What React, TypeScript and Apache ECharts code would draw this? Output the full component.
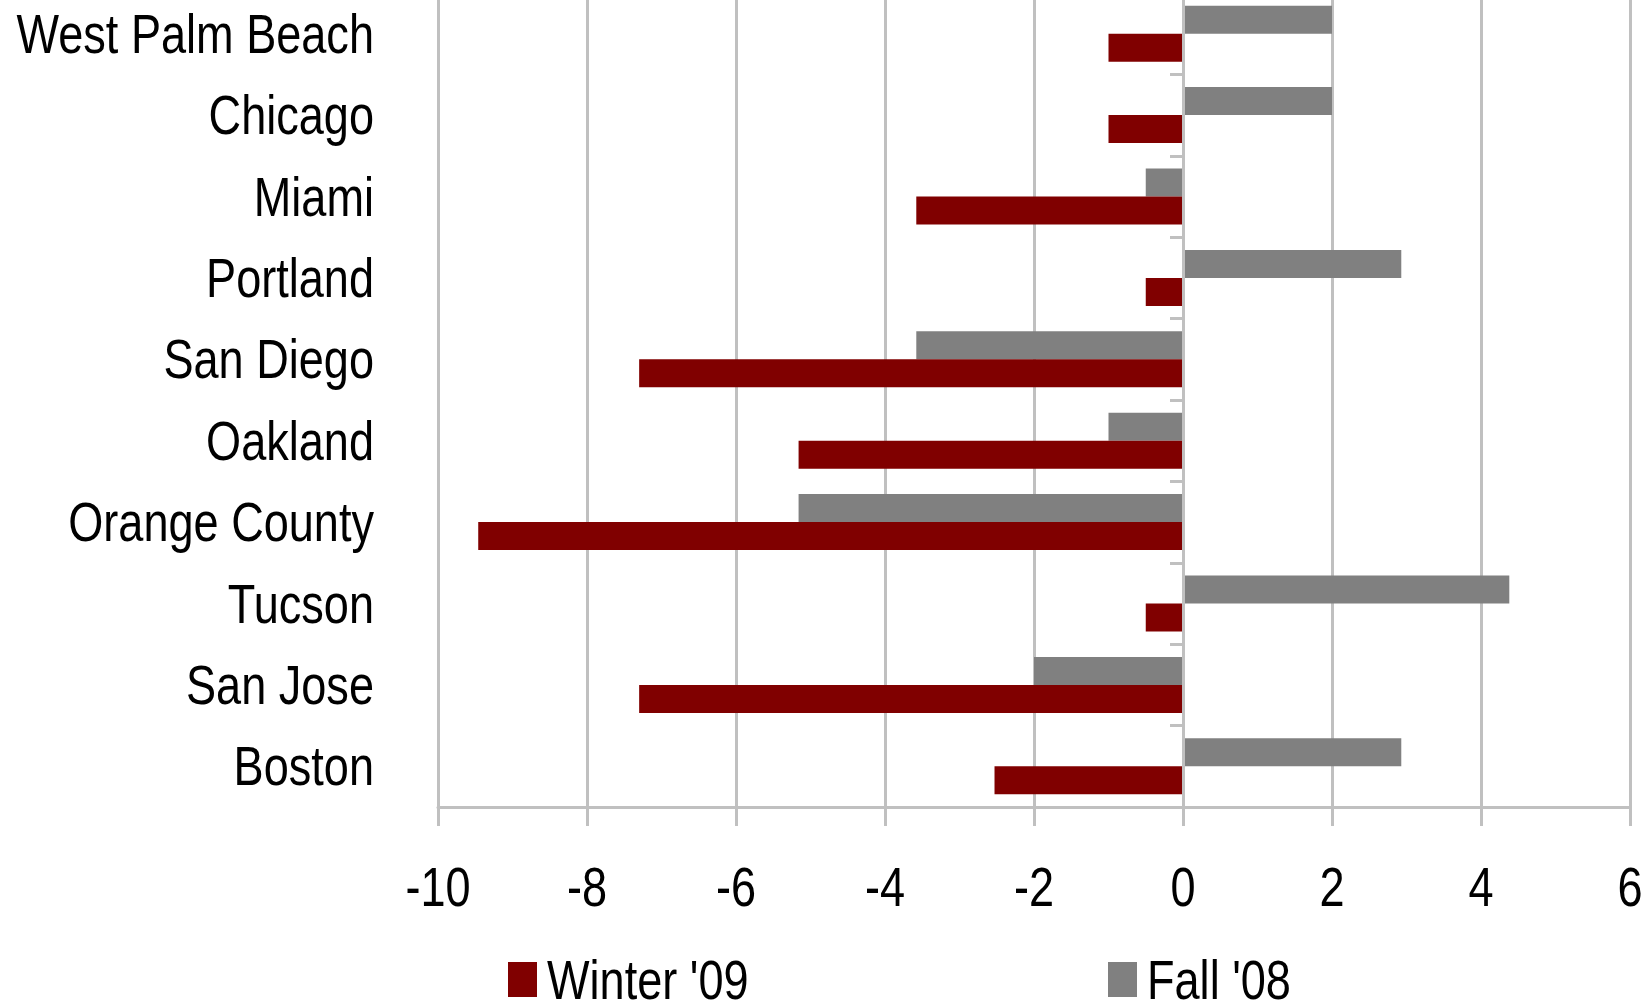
import React, { useEffect, useRef } from "react";
import * as echarts from "echarts";

// Cities, top to bottom
const cities = [
  "West Palm Beach",
  "Chicago",
  "Miami",
  "Portland",
  "San Diego",
  "Oakland",
  "Orange County",
  "Tucson",
  "San Jose",
  "Boston",
];

// Change by period
const fall08 = [2, 2, -0.5, 2.93, -3.58, -1, -5.16, 4.38, -2, 2.93];
const winter09 = [-1, -1, -3.58, -0.5, -7.3, -5.16, -9.46, -0.5, -7.3, -2.53];

const xTicks = { min: -10, max: 6, step: 2 };

const FONT = "'Liberation Sans Narrow', 'Arial Narrow', 'Liberation Sans', Arial, sans-serif";
const FONT_SIZE = 55;
// Horizontal squeeze applied to the SVG texts to get a narrow face
const NARROW = 0.82;
const GRID_GREY = "#c0c0c0";
const WINTER_COLOR = "#800000";
const FALL_COLOR = "#808080";

function narrowTexts(root: HTMLElement) {
  root.querySelectorAll("text").forEach((t) => {
    if (t.getAttribute("data-narrow")) return;
    const x = parseFloat(t.getAttribute("x") || "0") || 0;
    const old = t.getAttribute("transform") || "";
    t.setAttribute(
      "transform",
      `${old} translate(${x} 0) scale(${NARROW} 1) translate(${-x} 0)`.trim()
    );
    t.setAttribute("data-narrow", "1");
  });
}

export default function App() {
  const ref = useRef<HTMLDivElement>(null);

  useEffect(() => {
    const el = ref.current;
    if (!el) return;
    const chart = echarts.init(el, undefined, { renderer: "svg" });
    const legendText = {
      fontFamily: FONT,
      fontSize: FONT_SIZE,
      lineHeight: FONT_SIZE,
      color: "#000",
      padding: [0, 0, 0, 5],
    };
    chart.setOption({
      animation: false,
      backgroundColor: "#ffffff",
      textStyle: { fontFamily: FONT },
      grid: {
        left: 438,
        right: 14,
        top: -7,
        height: 814,
        containLabel: false,
        outerBoundsMode: "none",
      },
      legend: [
        {
          data: ["Winter '09"],
          left: 503,
          top: 947,
          itemWidth: 29,
          itemHeight: 35,
          icon: "rect",
          textStyle: legendText,
        },
        {
          data: ["Fall '08"],
          left: 1103,
          top: 947,
          itemWidth: 29,
          itemHeight: 35,
          icon: "rect",
          textStyle: legendText,
        },
      ],
      xAxis: {
        type: "value",
        min: xTicks.min,
        max: xTicks.max,
        interval: xTicks.step,
        axisLine: { show: true, onZero: false, lineStyle: { color: GRID_GREY, width: 3 } },
        axisTick: { show: true, length: 19, lineStyle: { color: GRID_GREY, width: 3 } },
        splitLine: { show: true, lineStyle: { color: GRID_GREY, width: 3 } },
        axisLabel: { fontFamily: FONT, fontSize: FONT_SIZE, color: "#000", margin: 52 },
      },
      yAxis: [
        {
          type: "category",
          data: cities,
          inverse: true,
          axisLine: { show: false, onZero: false },
          axisTick: { show: false },
          splitLine: { show: false },
          axisLabel: { fontFamily: FONT, fontSize: FONT_SIZE, color: "#000", margin: 64 },
        },
        {
          type: "category",
          data: cities,
          inverse: true,
          position: "left",
          z: 5,
          axisLine: { show: true, onZero: true, lineStyle: { color: GRID_GREY, width: 3 } },
          axisTick: { show: true, length: 13, lineStyle: { color: GRID_GREY, width: 3 } },
          axisLabel: { show: false },
          splitLine: { show: false },
        },
      ],
      series: [
        {
          name: "Fall '08",
          type: "bar",
          data: fall08,
          barWidth: 28,
          barGap: "0%",
          itemStyle: { color: FALL_COLOR },
        },
        {
          name: "Winter '09",
          type: "bar",
          data: winter09,
          barWidth: 28,
          barGap: "0%",
          itemStyle: { color: WINTER_COLOR },
        },
      ],
    });
    const onFinished = () => narrowTexts(el);
    chart.on("finished", onFinished);
    narrowTexts(el);
    const raf = requestAnimationFrame(() => narrowTexts(el));
    return () => {
      cancelAnimationFrame(raf);
      chart.off("finished", onFinished);
      chart.dispose();
    };
  }, []);

  return (
    <div
      ref={ref}
      style={{ position: "fixed", left: 0, top: 0, width: 1644, height: 1005, background: "#fff" }}
    />
  );
}
